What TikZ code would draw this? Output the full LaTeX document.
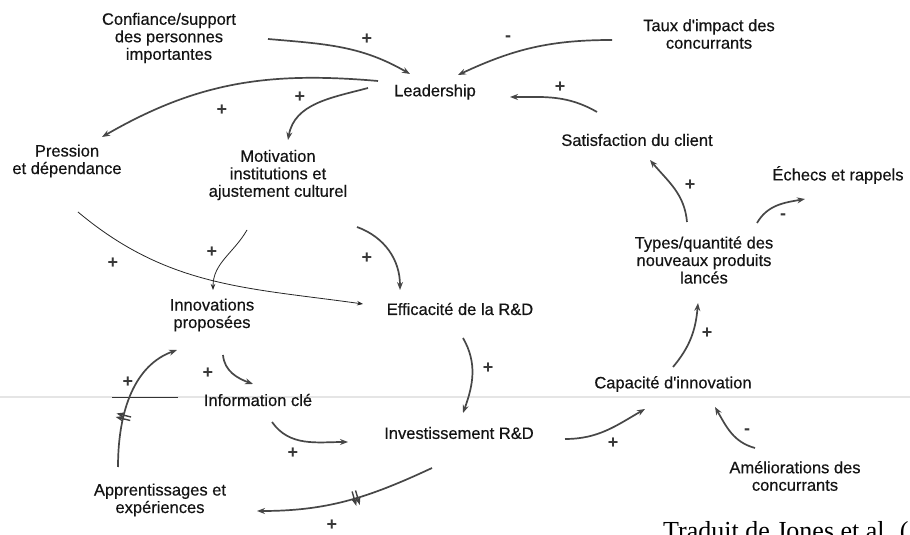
\documentclass[tikz,border=0pt]{standalone}
\usepackage{fontspec}
\setmainfont{Liberation Sans}
\newfontfamily\diagfont[FakeBold=0.4]{Liberation Sans}
\newfontfamily\srcfont{Liberation Serif}
\usetikzlibrary{arrows.meta,decorations.markings}
\begin{document}
\begin{tikzpicture}[x=1pt,y=1pt,
  lbl/.style={font=\diagfont\fontsize{16.5}{17.5}\selectfont, align=center, inner sep=0pt, text=black!92},
  pol/.style={font=\bfseries\fontsize{18}{18}\selectfont, inner sep=0pt, text=black!78},
  arr/.style={draw=black!72, line width=1.7pt, -{Stealth[length=8pt,width=6pt]}},
  thinarr/.style={draw=black!85, line width=0.8pt, -{Stealth[length=6pt,width=4.5pt]}},
  delaymark/.style={postaction={decorate, decoration={markings,
      mark=at position #1 with {\draw[line width=1.4pt, black!75] (-1.8pt,-7.5pt) -- (-1.8pt,7.5pt);
                                \draw[line width=1.4pt, black!75] (1.8pt,-7.5pt) -- (1.8pt,7.5pt);}}}}
]
\useasboundingbox (0,0) rectangle (910,535);
\fill[white] (0,0) rectangle (910,535);
% faint scan line
\draw[black!10, line width=2pt] (0,138) -- (910,138);
\draw[black!80, line width=0.6pt] (112,138) -- (178,138);

% nodes
\node[lbl] (conf) at (169,497) {Confiance/support\\des personnes\\importantes};
\node[lbl] (taux) at (709,501) {Taux d'impact des\\concurrants};
\node[lbl] (lead) at (435,443) {Leadership};
\node[lbl] (sat) at (637,395) {Satisfaction du client};
\node[lbl] (pres) at (67,374) {Pression\\et dépendance};
\node[lbl] (motiv) at (278,360) {Motivation\\institutions et\\ajustement culturel};
\node[lbl] (echec) at (838,360) {Échecs et rappels};
\node[lbl] (types) at (704,275) {Types/quantité des\\nouveaux produits\\lancés};
\node[lbl] (innov) at (212,220) {Innovations\\proposées};
\node[lbl] (eff) at (460,226) {Efficacité de la R\&D};
\node[lbl] (info) at (258,135) {Information clé};
\node[lbl] (cap) at (673,151) {Capacité d'innovation};
\node[lbl] (invest) at (459,102) {Investissement R\&D};
\node[lbl] (appr) at (160,35) {Apprentissages et\\expériences};
\node[lbl] (amel) at (795,59) {Améliorations des\\concurrants};
\node[anchor=base west, inner sep=0pt, font=\srcfont\fontsize{26}{26}\selectfont, text=black] (src) at (663,-5) {Traduit de Jones et al. (};

% connectors
\draw[arr] ([shift={(99,-1)}]conf.center) to[out=-5,in=150] ([shift={(-25,18)}]lead.center);
\draw[arr] ([shift={(-97,-6)}]taux.center) to[out=180,in=25] ([shift={(23,17)}]lead.center);
\draw[arr] ([shift={(-57,11)}]lead.center) to[out=175,in=30] ([shift={(35,24)}]pres.center);
\draw[arr] ([shift={(-67,4)}]lead.center) to[out=195,in=80] ([shift={(10,35)}]motiv.center);
\draw[arr] ([shift={(-40,28)}]sat.center) to[out=150,in=0] ([shift={(75,-5)}]lead.center);
\draw[thinarr] ([shift={(11,-51)}]pres.center) to[out=-40,in=172] ([shift={(-97,5)}]eff.center);
\draw[thinarr] ([shift={(-31,-55)}]motiv.center) to[out=240,in=90] ([shift={(1,25)}]innov.center);
\draw[arr] ([shift={(79,-52)}]motiv.center) to[out=-20,in=90] ([shift={(-60,19)}]eff.center);
\draw[arr] ([shift={(-17,38)}]types.center) to[out=95,in=-50] ([shift={(13,-20)}]sat.center);
\draw[arr] ([shift={(53,37)}]types.center) to[out=60,in=190] ([shift={(-33,-24)}]echec.center);
\draw[arr] ([shift={(0,17)}]cap.center) to[out=50,in=-95] ([shift={(-6,-43)}]types.center);
\draw[arr] ([shift={(3,-29)}]eff.center) to[out=-60,in=70] ([shift={(4,20)}]invest.center);
\draw[arr] ([shift={(106,-6)}]invest.center) to[out=0,in=210] ([shift={(-28,-25)}]cap.center);
\draw[arr] ([shift={(-40,28)}]amel.center) to[out=165,in=-60] ([shift={(42,-23)}]cap.center);
\draw[arr] ([shift={(11,-40)}]innov.center) to[out=-85,in=160] ([shift={(-5,16)}]info.center);
\draw[arr] ([shift={(14,-22)}]info.center) to[out=-55,in=180] ([shift={(-111,-9)}]invest.center);
\draw[arr, delaymark=0.45] ([shift={(-27,-35)}]invest.center) to[out=205,in=0] ([shift={(97,-11)}]appr.center);
\draw[arr, delaymark=0.36] ([shift={(-42,33)}]appr.center) .. controls ([shift={(-42,90)}]appr.center) and ([shift={(-77,-50)}]innov.center) .. ([shift={(-35,-35)}]innov.center);

% polarities
\node[pol] (p1) at (367,496) {+};
\node[pol] (p2) at (508,496) {-};
\node[pol] (p3) at (222,425) {+};
\node[pol] (p4) at (300,438) {+};
\node[pol] (p5) at (560,448) {+};
\node[pol] (p6) at (113,272) {+};
\node[pol] (p7) at (212,283) {+};
\node[pol] (p8) at (367,277) {+};
\node[pol] (p9) at (690,350) {+};
\node[pol] (p10) at (783,318) {-};
\node[pol] (p11) at (707,202) {+};
\node[pol] (p12) at (488,167) {+};
\node[pol] (p13) at (613,92) {+};
\node[pol] (p14) at (747,103) {-};
\node[pol] (p15) at (208,162) {+};
\node[pol] (p16) at (293,82) {+};
\node[pol] (p17) at (332,10) {+};
\node[pol] (p18) at (128,153) {+};
\end{tikzpicture}
\end{document}
